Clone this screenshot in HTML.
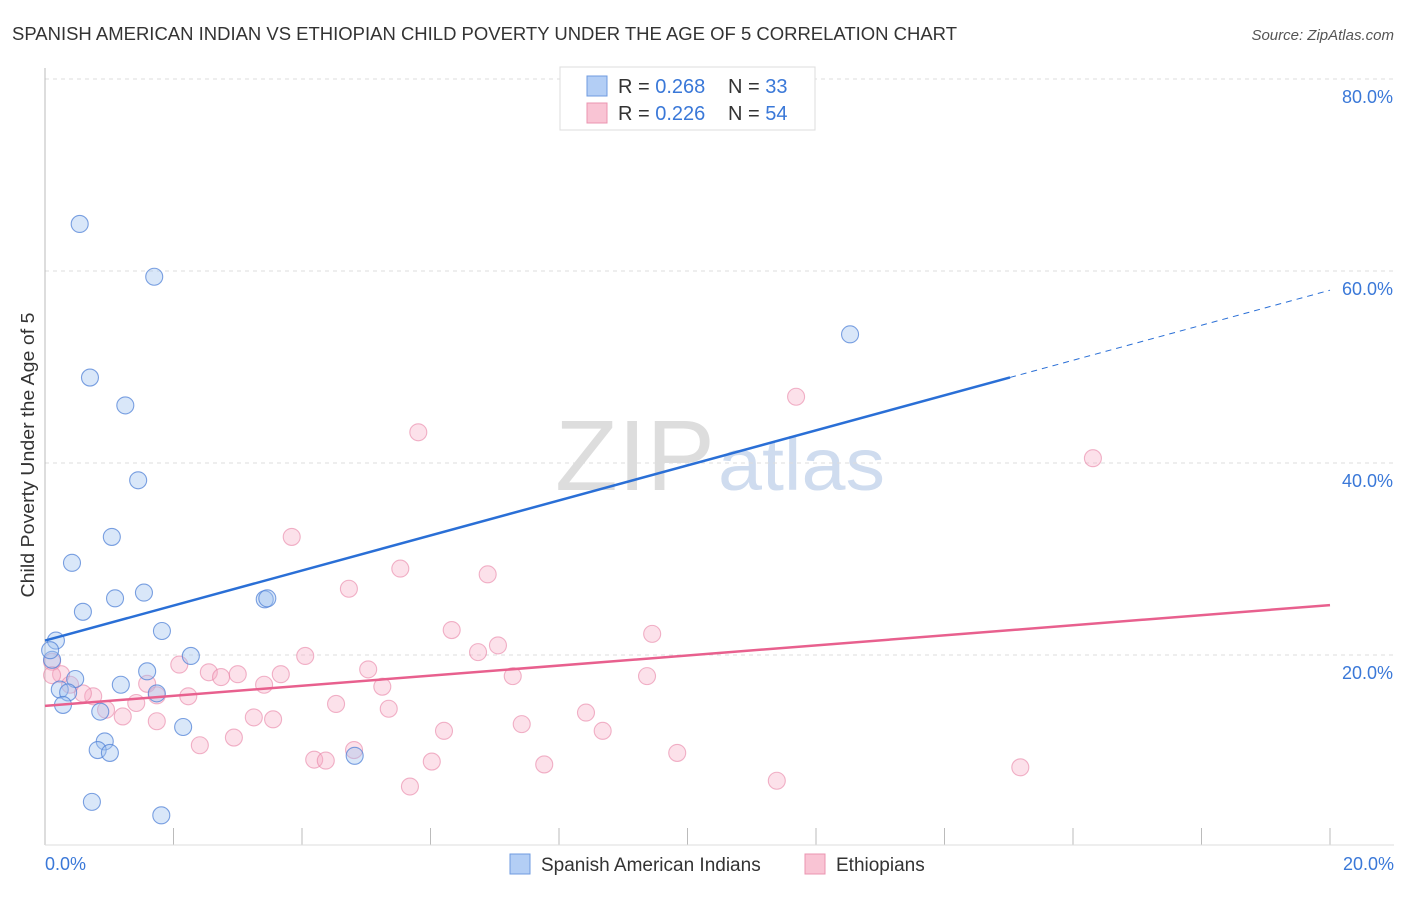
<!DOCTYPE html>
<html><head><meta charset="utf-8"><style>
body{margin:0;background:#fff;font-family:"Liberation Sans",sans-serif;}
svg text{font-family:"Liberation Sans",sans-serif;}
</style></head><body>
<svg width="1406" height="892" xmlns="http://www.w3.org/2000/svg">
<text x="12" y="40" font-size="18" fill="#333" textLength="945" lengthAdjust="spacingAndGlyphs">SPANISH AMERICAN INDIAN VS ETHIOPIAN CHILD POVERTY UNDER THE AGE OF 5 CORRELATION CHART</text>
<text x="1394" y="40" font-size="15" fill="#555" font-style="italic" text-anchor="end">Source: ZipAtlas.com</text>
<text x="555" y="490" font-size="100" fill="#ddd" font-family="Liberation Serif" textLength="160" lengthAdjust="spacingAndGlyphs">ZIP</text>
<text x="718" y="490" font-size="74" fill="#cfdcef" textLength="167" lengthAdjust="spacingAndGlyphs">atlas</text>
<g id="grid"></g>
<line x1="45" y1="68" x2="45" y2="845" stroke="#bbb"/>
<line x1="45" y1="845" x2="1394" y2="845" stroke="#ddd"/>
<text transform="translate(34,455) rotate(-90)" font-size="18" fill="#333" text-anchor="middle" textLength="285" lengthAdjust="spacingAndGlyphs">Child Poverty Under the Age of 5</text>
<g id="marks"></g>
<g id="trends"></g>
<g>
<rect x="560" y="67" width="255" height="63" fill="#fff" stroke="#ddd"/>
<rect x="587" y="76" width="20" height="20" fill="#b3cef5" stroke="#6f9be0"/>
<rect x="587" y="103" width="20" height="20" fill="#f9c4d4" stroke="#eb94b0"/>
<text x="618" y="93" font-size="20" fill="#333">R = <tspan fill="#3a78d8">0.268</tspan><tspan x="728">N = </tspan><tspan fill="#3a78d8">33</tspan></text>
<text x="618" y="120" font-size="20" fill="#333">R = <tspan fill="#3a78d8">0.226</tspan><tspan x="728">N = </tspan><tspan fill="#3a78d8">54</tspan></text>
</g>
<g>
<rect x="510" y="854" width="20" height="20" fill="#b3cef5" stroke="#6f9be0"/>
<text x="541" y="871" font-size="19" fill="#333">Spanish American Indians</text>
<rect x="805" y="854" width="20" height="20" fill="#f9c4d4" stroke="#eb94b0"/>
<text x="836" y="871" font-size="19" fill="#333">Ethiopians</text>
</g>
<text x="45" y="870" font-size="18" fill="#3a78d8">0.0%</text>
<text x="1394" y="870" font-size="18" fill="#3a78d8" text-anchor="end">20.0%</text>
</svg>
<script>
const blueX=[0.54,1.70,0.70,1.25,1.45,1.04,0.42,0.59,1.09,1.54,1.82,0.17,0.11,0.08,0.47,0.23,0.36,0.28,1.18,1.59,1.74,2.27,0.86,0.93,0.82,1.01,2.15,4.82,0.73,1.81,3.42,3.46,12.53];
const blueY=[64.9,59.4,48.9,46.0,38.2,32.3,29.6,24.5,25.9,26.5,22.5,21.5,19.5,20.5,17.5,16.4,16.1,14.8,16.9,18.3,16.0,19.9,14.1,11.0,10.1,9.8,12.5,9.5,4.7,3.3,25.8,25.9,53.4];
const pinkX=[5.81,11.69,16.31,3.84,5.53,6.89,4.73,6.33,9.45,7.05,6.74,4.05,2.09,2.55,3.00,2.74,3.67,5.03,7.28,9.37,3.41,5.25,1.59,1.74,2.23,0.75,0.59,0.95,1.21,1.42,0.25,0.11,4.53,5.35,8.42,3.25,3.55,1.74,7.42,8.68,6.21,2.94,2.41,4.81,9.84,4.19,4.37,6.02,7.77,15.18,11.39,5.68,0.11,0.39];
const pinkY=[43.2,46.9,40.5,32.3,29.0,28.4,26.9,22.6,22.2,21.0,20.3,19.9,19.0,18.2,18.0,17.7,18.0,18.5,17.8,17.8,16.9,16.7,17.0,15.8,15.7,15.7,16.0,14.3,13.6,15.0,18.0,19.3,14.9,14.4,14.0,13.5,13.3,13.1,12.8,12.1,12.1,11.4,10.6,10.1,9.8,9.1,9.0,8.9,8.6,8.3,6.9,6.3,17.9,16.9];
const yTicks=[20,40,60,80];
const yTickLabels=["20.0%","40.0%","60.0%","80.0%"];
const xTicks=[0,2,4,6,8,10,12,14,16,18,20];
const blueTrend=[21.5,58.0];
const pinkTrend=[14.7,25.2];
const blueSolidEnd=15.02;
const NS="http://www.w3.org/2000/svg";
const sx=v=>45+v*64.25, sy=v=>847-v*9.6;
function mk(t,a,p){const e=document.createElementNS(NS,t);for(const k in a)e.setAttribute(k,a[k]);p.appendChild(e);return e;}
const grid=document.getElementById('grid'), svg=grid.ownerSVGElement;
yTicks.forEach((v,i)=>{
 const l=mk('line',{x1:45,x2:1394,y1:sy(v),y2:sy(v),stroke:'#ddd','stroke-dasharray':'4,4'},grid);
 
 
 const t=mk('text',{x:1393,y:sy(v)+24,'font-size':18,fill:'#3a78d8','text-anchor':'end'},svg);
 t.textContent=yTickLabels[i];
 
 
});
xTicks.forEach(v=>{
 const l=mk('line',{x1:sx(v),x2:sx(v),y1:828,y2:845,stroke:'#bbb'},grid);
 
 
});
const marks=document.getElementById('marks');
pinkX.forEach((x,i)=>{
 const c=mk('circle',{cx:sx(x),cy:sy(pinkY[i]),r:8.5,fill:'rgba(246,170,195,0.35)',stroke:'rgba(232,130,165,0.6)','stroke-width':1.1},marks);
 
 
});
blueX.forEach((x,i)=>{
 const c=mk('circle',{cx:sx(x),cy:sy(blueY[i]),r:8.5,fill:'rgba(160,195,240,0.4)',stroke:'rgba(80,130,215,0.75)','stroke-width':1.1},marks);
 
 
});
const tr=document.getElementById('trends');
const by=x=>blueTrend[0]+(blueTrend[1]-blueTrend[0])*x/20;
let l=mk('line',{x1:sx(0),y1:sy(by(0)),x2:sx(blueSolidEnd),y2:sy(by(blueSolidEnd)),stroke:'#2a6fd6','stroke-width':2.5},tr);


l=mk('line',{x1:sx(blueSolidEnd),y1:sy(by(blueSolidEnd)),x2:sx(20),y2:sy(by(20)),stroke:'#2a6fd6','stroke-width':1,'stroke-dasharray':'6,5'},tr);


l=mk('line',{x1:sx(0),y1:sy(pinkTrend[0]),x2:sx(20),y2:sy(pinkTrend[1]),stroke:'#e8608e','stroke-width':2.5},tr);


</script>
</body></html>
